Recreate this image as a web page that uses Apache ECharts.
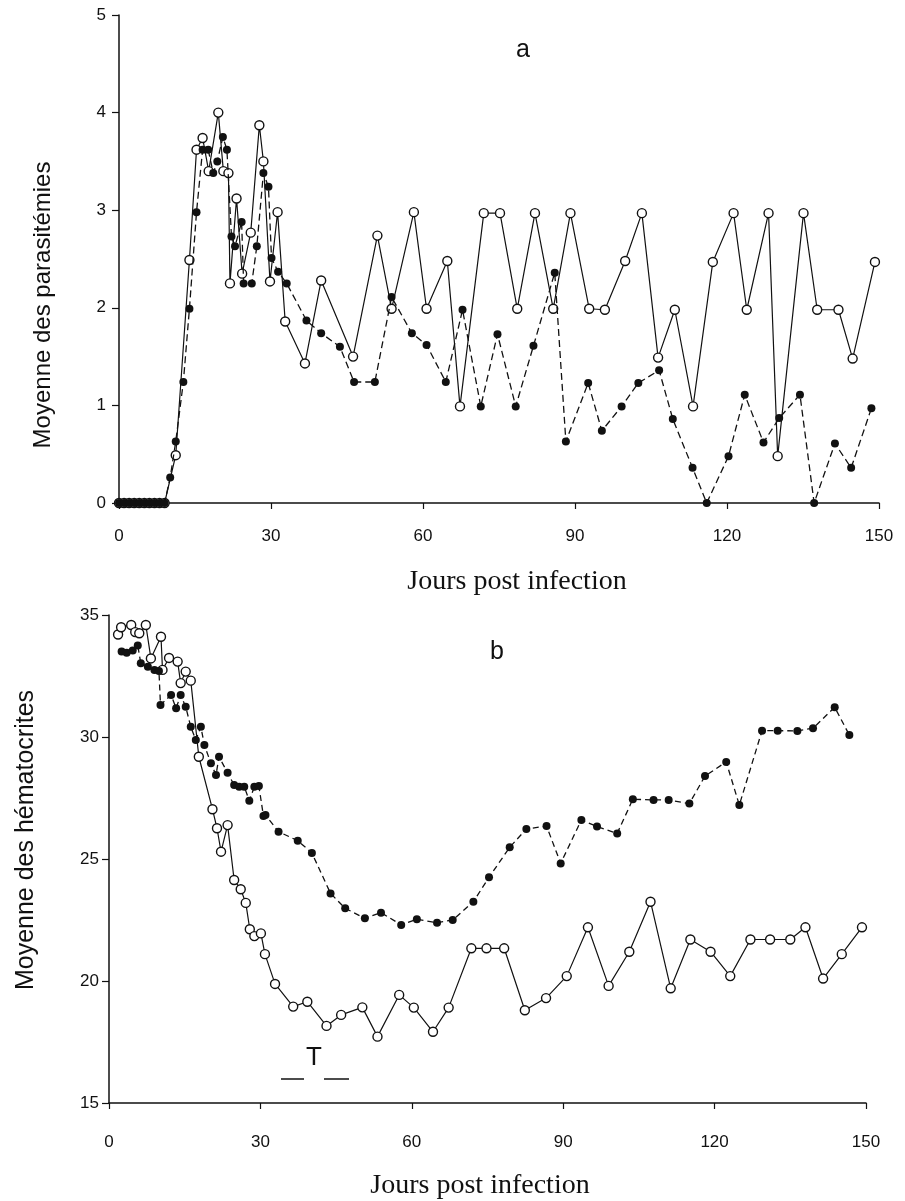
<!DOCTYPE html>
<html>
<head>
<meta charset="utf-8">
<script src="https://cdn.jsdelivr.net/npm/echarts@6/dist/echarts.min.js"></script>
<style>
  html, body { margin: 0; padding: 0; background: #fff; }
  #chart { width: 905px; height: 1201px; }
</style>
</head>
<body>
<div id="chart"></div>
<script>
// Days post infection shared by both panels
const dayTicks = [0, 30, 60, 90, 120, 150];

// Panel a: mean parasitaemia, filled-circle group
const paraFilledDays = [0,1,2,3,4,5,6,7,8,9,
  10.1,11.2,12.7,13.9,15.3,16.5,17.6,18.6,19.4,20.5,21.3,22.2,22.9,24.2,24.6,
  26.2,27.2,28.5,29.5,30.1,31.4,33.1,37.0,39.9,43.6,46.4,50.5,53.8,57.8,60.7,
  64.5,67.8,71.4,74.7,78.3,81.8,86.0,88.2,92.6,95.3,99.2,102.5,106.6,109.3,113.2,
  116.0,120.3,123.5,127.2,130.3,134.4,137.2,141.3,144.5,148.5];
const paraFilledVals = [0,0,0,0,0,0,0,0,0,0,
  0.26,0.63,1.24,1.99,2.98,3.62,3.62,3.38,3.5,3.75,3.62,2.73,2.63,2.88,2.25,
  2.25,2.63,3.38,3.24,2.51,2.37,2.25,1.87,1.74,1.60,1.24,1.24,2.11,1.74,1.62,
  1.24,1.98,0.99,1.73,0.99,1.61,2.36,0.63,1.23,0.74,0.99,1.23,1.36,0.86,0.36,
  0,0.48,1.11,0.62,0.87,1.11,0,0.61,0.36,0.97];

// Panel a: mean parasitaemia, open-circle group
const paraOpenDays = [0,1,2,3,4,5,6,7,8,9,
  11.2,13.9,15.3,16.5,17.7,19.6,20.6,21.6,21.9,23.2,24.3,26.0,27.7,28.5,29.8,
  31.3,32.8,36.7,39.9,46.2,51.0,53.8,58.2,60.7,64.8,67.3,72.0,75.2,78.6,82.1,
  85.7,89.1,92.8,95.9,99.9,103.2,106.4,109.7,113.3,117.2,121.3,123.9,128.2,130.0,135.1,
  137.8,142.0,144.8,149.2];
const paraOpenVals = [0,0,0,0,0,0,0,0,0,0,
  0.49,2.49,3.62,3.74,3.4,4.0,3.4,3.38,2.25,3.12,2.35,2.77,3.87,3.5,2.27,
  2.98,1.86,1.43,2.28,1.5,2.74,1.99,2.98,1.99,2.48,0.99,2.97,2.97,1.99,2.97,
  1.99,2.97,1.99,1.98,2.48,2.97,1.49,1.98,0.99,2.47,2.97,1.98,2.97,0.48,2.97,
  1.98,1.98,1.48,2.47];

// Panel b: mean haematocrit, filled-circle group
const hemaFilledDays = [2.5,3.5,4.7,5.7,6.3,7.7,9.0,9.9,10.2,12.3,
  13.3,14.2,15.2,16.2,17.2,18.2,18.9,20.2,21.2,21.8,23.5,24.8,25.8,26.8,27.8,
  28.8,29.7,30.6,31.0,33.6,37.4,40.2,43.9,46.8,50.7,53.9,57.9,61.0,65.0,68.1,
  72.2,75.3,79.4,82.7,86.7,89.5,93.6,96.7,100.7,103.8,107.9,110.9,115.0,118.1,122.3,
  124.9,129.4,132.5,136.4,139.5,143.8,146.7];
const hemaFilledVals = [33.5,33.45,33.55,33.75,33.02,32.88,32.75,32.7,31.31,31.72,
  31.18,31.72,31.24,30.42,29.88,30.42,29.67,28.92,28.44,29.19,28.53,28.03,27.96,27.96,27.39,
  27.96,27.99,26.76,26.8,26.12,25.75,25.25,23.59,22.98,22.57,22.8,22.3,22.53,22.39,22.5,
  23.25,24.25,25.48,26.23,26.35,24.82,26.6,26.33,26.05,27.45,27.42,27.42,27.27,28.4,28.98,
  27.21,30.26,30.26,30.25,30.36,31.22,30.08];

// Panel b: mean haematocrit, open-circle group
const hemaOpenDays = [1.8,2.4,4.4,5.2,6.0,7.3,8.3,10.3,10.6,11.9,
  13.6,14.2,15.2,16.2,17.8,20.5,21.4,22.2,23.5,24.8,26.1,27.1,27.9,28.8,30.1,
  30.9,32.9,36.5,39.3,43.1,46.0,50.2,53.2,57.5,60.4,64.2,67.3,71.8,74.8,78.3,
  82.4,86.6,90.7,94.9,99.0,103.1,107.3,111.3,115.2,119.2,123.1,127.1,131.0,135.0,138.0,
  141.5,145.2,149.2];
const hemaOpenVals = [34.2,34.5,34.59,34.3,34.25,34.59,33.22,34.11,32.75,33.24,
  33.09,32.21,32.68,32.31,29.19,27.04,26.26,25.3,26.39,24.14,23.76,23.2,22.12,21.84,21.95,
  21.1,19.88,18.95,19.15,18.16,18.61,18.92,17.72,19.43,18.91,17.92,18.91,21.34,21.34,21.34,
  18.8,19.3,20.2,22.2,19.8,21.2,23.25,19.7,21.7,21.2,20.2,21.7,21.7,21.7,22.2,
  20.1,21.1,22.2];

const paraTicks = [0, 1, 2, 3, 4, 5];
const hemaTicks = [15, 20, 25, 30, 35];

const zip = (xs, ys) => xs.map((x, i) => [x, ys[i]]);

const INK = '#111';
const SANS = '"Liberation Sans", Arial, sans-serif';
const tickFont = { color: INK, fontFamily: SANS, fontSize: 17 };

function xAxisFor(gridIndex, margin) {
  return {
    type: 'value', gridIndex, min: dayTicks[0], max: dayTicks[dayTicks.length - 1], interval: 30,
    axisLine: { lineStyle: { color: INK, width: 1.5 } },
    axisTick: { show: true, length: 6, inside: false, lineStyle: { color: INK, width: 1.2 } },
    axisLabel: Object.assign({ margin }, tickFont),
    splitLine: { show: false }
  };
}

function yAxisFor(gridIndex, ticks, margin) {
  return {
    type: 'value', gridIndex, min: ticks[0], max: ticks[ticks.length - 1],
    interval: ticks[1] - ticks[0],
    axisLine: { show: true, lineStyle: { color: INK, width: 1.5 } },
    axisTick: { show: true, length: 7, inside: false, lineStyle: { color: INK, width: 1.2 } },
    axisLabel: Object.assign({ margin }, tickFont),
    splitLine: { show: false }
  };
}

function filledSeries(xi, data, dash) {
  return {
    type: 'line', xAxisIndex: xi, yAxisIndex: xi, data, z: 3,
    symbol: 'circle', symbolSize: 8,
    itemStyle: { color: INK },
    lineStyle: { color: INK, width: 1.3, type: dash },
    animation: false
  };
}

function openSeries(xi, data) {
  return {
    type: 'line', xAxisIndex: xi, yAxisIndex: xi, data, z: 2,
    symbol: 'circle', symbolSize: 9,
    itemStyle: { color: '#fff', borderColor: INK, borderWidth: 1.4 },
    lineStyle: { color: INK, width: 1.2, type: 'solid' },
    animation: false
  };
}

const centred = { textAlign: 'center', textVerticalAlign: 'middle', fill: INK };
const serifTitle = Object.assign({ fontSize: 28, fontFamily: '"Liberation Serif", "Times New Roman", serif' }, centred);
const sansText = (size) => Object.assign({ fontSize: size, fontFamily: SANS }, centred);

const chart = echarts.init(document.getElementById('chart'), null, { renderer: 'canvas' });
chart.setOption({
  backgroundColor: '#fff',
  animation: false,
  grid: [
    { left: 119, top: 15, width: 760, height: 488 },
    { left: 109, top: 615, width: 757, height: 488 }
  ],
  xAxis: [xAxisFor(0, 25), xAxisFor(1, 31)],
  yAxis: [yAxisFor(0, paraTicks, 13), yAxisFor(1, hemaTicks, 10)],
  series: [
    openSeries(0, zip(paraOpenDays, paraOpenVals)),
    filledSeries(0, zip(paraFilledDays, paraFilledVals), [7, 4]),
    openSeries(1, zip(hemaOpenDays, hemaOpenVals)),
    filledSeries(1, zip(hemaFilledDays, hemaFilledVals), [6, 4])
  ],
  graphic: [
    { type: 'text', x: 523, y: 50, style: Object.assign({ text: 'a' }, sansText(25)) },
    { type: 'text', x: 497, y: 652, style: Object.assign({ text: 'b' }, sansText(25)) },
    { type: 'text', x: 517, y: 582, style: Object.assign({ text: 'Jours post infection' }, serifTitle) },
    { type: 'text', x: 480, y: 1186, style: Object.assign({ text: 'Jours post infection' }, serifTitle) },
    { type: 'text', x: 43, y: 305, rotation: Math.PI / 2, style: Object.assign({ text: 'Moyenne des parasitémies' }, sansText(24)) },
    { type: 'text', x: 26, y: 840, rotation: Math.PI / 2, style: Object.assign({ text: 'Moyenne des hématocrites' }, sansText(25)) },
    // "T" marker with its two dashes below the haematocrit curves
    { type: 'text', x: 314, y: 1058, style: Object.assign({ text: 'T' }, sansText(26)) },
    { type: 'line', shape: { x1: 281, y1: 1079, x2: 304, y2: 1079 }, style: { stroke: INK, lineWidth: 1.5 } },
    { type: 'line', shape: { x1: 324, y1: 1079, x2: 349, y2: 1079 }, style: { stroke: INK, lineWidth: 1.5 } }
  ]
});
</script>
</body>
</html>
